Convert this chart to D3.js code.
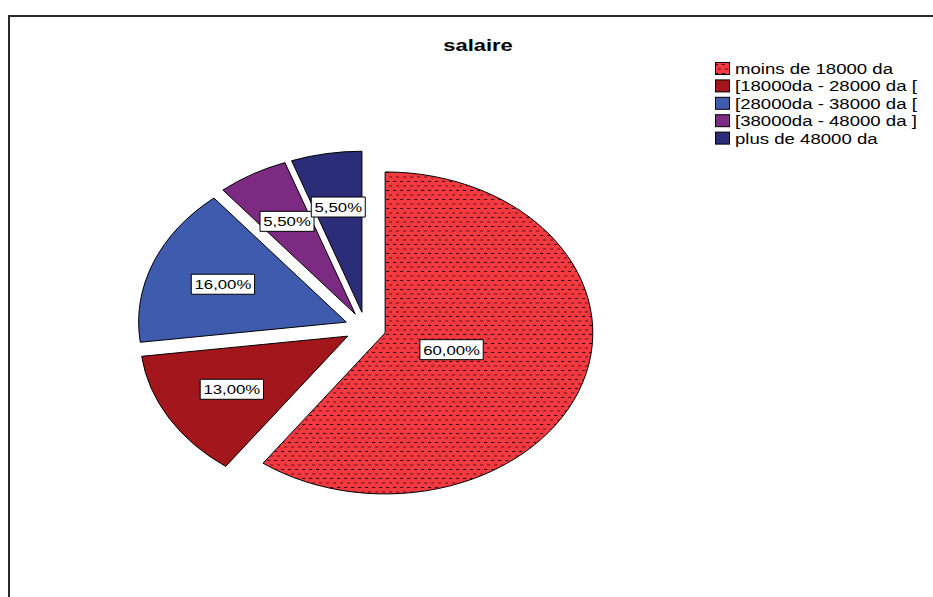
<!DOCTYPE html>
<html><head><meta charset="utf-8">
<script src="https://cdn.jsdelivr.net/npm/d3@7"></script>
<style>body{margin:0;background:#fff} svg{display:block} text{font-family:"Liberation Sans",Arial,sans-serif}</style>
</head><body><svg id="c" width="933" height="597"></svg>
<script>
const title = "salaire";
const categories = ["moins de 18000 da","[18000da - 28000 da [","[28000da - 38000 da [","[38000da - 48000 da ]","plus de 48000 da"];
const values = [60.0, 13.0, 16.0, 5.5, 5.5];
const labels = ["60,00%","13,00%","16,00%","5,50%","5,50%"];
const colors = ["#f43a40","#a3161c","#3f5bad","#7d2a83","#2b2d79"];

const svg = d3.select("#c");
const SX = 1.29;           // horizontal stretch of the chart
const R = 161, EXPLODE = 16, cx = 365.5, cy = 328;

// frame
svg.append("path").attr("d","M9,597V16H933").attr("fill","none").attr("stroke","#2a2a2a").attr("stroke-width",2);

// patterns
const defs = svg.append("defs");
function mkPattern(id, tf){
  const p = defs.append("pattern").attr("id",id).attr("patternUnits","userSpaceOnUse")
    .attr("width",7).attr("height",9);
  if (tf) p.attr("patternTransform", tf);
  p.append("rect").attr("width",7).attr("height",9).attr("fill",colors[0]);
  p.append("rect").attr("x",1).attr("y",1).attr("width",3).attr("height",1).attr("fill","#1b0a0a");
  p.append("rect").attr("x",4).attr("y",5.5).attr("width",3).attr("height",1).attr("fill","#5a1014");
  return "url(#"+id+")";
}
const patPie = mkPattern("dotsPie", "scale(" + (1/SX) + ",1)");
const patLeg = mkPattern("dotsLeg", null);

// title
svg.append("text").attr("transform",`translate(478,51) scale(${SX},1)`)
  .attr("text-anchor","middle").attr("font-size",17).attr("font-weight","bold").attr("fill","#000").text(title);

// pie
const pie = d3.pie().sort(null).value(d=>d)(values);
const arc = d3.arc().innerRadius(0).outerRadius(R);
const g = svg.append("g").attr("transform",`translate(${cx},${cy}) scale(${SX},1)`);
pie.forEach((p,i)=>{
  const mid = (p.startAngle+p.endAngle)/2;
  const ox = EXPLODE*Math.sin(mid), oy = -EXPLODE*Math.cos(mid);
  g.append("path").attr("transform",`translate(${ox},${oy})`)
    .attr("d",arc(p)).attr("fill", i===0 ? patPie : colors[i])
    .attr("stroke","#000").attr("stroke-width",1).attr("vector-effect","non-scaling-stroke");
});

// labels (area centroid of sector)
pie.forEach((p,i)=>{
  const mid = (p.startAngle+p.endAngle)/2;
  const a = (p.endAngle-p.startAngle)/2;
  const rc = EXPLODE + 2*R*Math.sin(a)/(3*a);
  const x = cx + SX*rc*Math.sin(mid), y = cy - rc*Math.cos(mid);
  const lg = svg.append("g").attr("transform",`translate(${x},${y}) scale(${SX},1)`);
  const rect = lg.append("rect");
  const t = lg.append("text").attr("text-anchor","middle").attr("font-size",13).attr("y",5).attr("fill","#000").text(labels[i]);
  const w = t.node().getComputedTextLength();
  rect.attr("x",-w/2-2.5).attr("y",-10).attr("width",w+5).attr("height",20)
    .attr("fill","#fff").attr("stroke","#000").attr("stroke-width",1).attr("vector-effect","non-scaling-stroke");
});

// legend
const lgd = svg.append("g");
categories.forEach((c,i)=>{
  const y = 62 + i*17.4;
  lgd.append("rect").attr("x",715.5).attr("y",y+0.5).attr("width",14).attr("height",12)
    .attr("fill", i===0 ? patLeg : colors[i]).attr("stroke","#000").attr("stroke-width",1);
  lgd.append("text").attr("transform",`translate(735,${y+12}) scale(1.24,1)`)
    .attr("font-size",15).attr("fill","#000").text(c);
});
</script></body></html>
